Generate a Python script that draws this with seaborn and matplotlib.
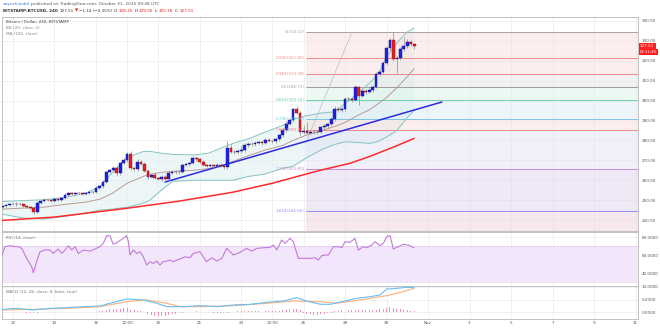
import numpy as np
import pandas as pd
import matplotlib
matplotlib.use("Agg")
import matplotlib.pyplot as plt
import seaborn as sns

sns.set_theme(style="white")
plt.rcParams['font.family'] = ['DejaVu Sans']

# ---------------- data ----------------
candle_start_day = 11.5          # Oct 11 12:00, 4h candles
candles_per_day = 6
first_open = 246.5
closes = [
    247.0, 247.6, 248.0, 248.3, 247.9, 248.2, 247.0, 246.6, 246.2, 244.2, 248.8, 249.8,
    250.3, 250.0, 249.6, 250.4, 250.2, 251.0, 252.6, 253.4, 253.1, 253.7, 253.4, 253.0,
    253.5, 254.0, 254.3, 256.2, 257.0, 259.2, 264.0, 265.0, 266.2, 263.5, 268.6, 270.2,
    273.0, 266.0, 265.6, 269.2, 268.4, 264.8, 261.6, 262.6, 261.2, 260.6, 261.8, 260.4,
    263.8, 264.2, 263.9, 264.3, 267.6, 268.1, 268.6, 271.0, 270.6, 269.2, 267.8, 267.2,
    267.6, 267.3, 267.9, 267.1, 266.6, 276.0, 274.4, 274.0, 274.6, 275.0, 277.7, 278.4,
    278.0, 278.8, 279.2, 278.6, 280.3, 279.8, 279.5, 280.5, 282.6, 285.0, 288.5, 290.2,
    295.6, 294.0, 284.0, 284.5, 283.8, 284.2, 284.0, 284.3, 286.5, 287.0, 288.0, 290.6,
    296.0, 295.2, 295.8, 300.8, 301.0, 300.5, 306.8, 302.5, 305.0, 304.5, 305.5, 307.0,
    313.5, 314.5, 318.7, 326.5, 330.5, 321.0, 321.5, 326.0, 327.5, 329.2, 328.25, 327.51,
]
upper_wick = [
    0.6, 0.5, 0.6, 0.5, 0.6, 0.5, 0.6, 0.5, 0.6, 0.8, 0.6, 0.5,
    0.6, 0.5, 0.6, 0.5, 0.6, 0.5, 0.8, 0.6, 0.5, 0.6, 0.5, 0.6,
    0.5, 0.6, 0.5, 0.8, 0.6, 0.8, 0.8, 0.6, 0.8, 1.0, 0.8, 0.8,
    1.0, 1.5, 0.8, 1.5, 0.8, 0.6, 0.8, 0.6, 0.8, 0.6, 0.8, 0.6,
    0.8, 0.6, 0.8, 0.6, 1.0, 0.6, 0.8, 1.0, 0.8, 0.6, 0.8, 0.6,
    0.8, 0.6, 0.8, 0.6, 0.8, 3.5, 2.0, 0.8, 1.0, 2.0, 1.0, 0.8,
    0.6, 0.8, 0.6, 0.8, 1.0, 0.8, 0.6, 0.8, 0.8, 1.0, 0.8, 0.8,
    0.8, 1.8, 1.0, 3.0, 5.0, 1.0, 0.8, 1.0, 0.8, 1.0, 0.8, 1.0,
    1.5, 1.0, 0.8, 1.0, 1.0, 0.8, 1.0, 0.5, 0.8, 1.0, 0.8, 1.0,
    1.0, 1.0, 1.0, 1.0, 1.0, 4.0, 1.0, 1.0, 4.5, 1.5, 1.0, 0.75,
]
lower_wick = [
    0.6, 0.5, 0.6, 0.5, 0.6, 0.5, 0.6, 0.5, 0.6, 1.0, 0.6, 0.5,
    0.6, 0.5, 0.6, 0.5, 0.6, 0.5, 0.6, 0.6, 0.5, 0.6, 0.5, 0.6,
    0.5, 0.6, 0.5, 0.6, 0.6, 0.8, 0.6, 0.6, 0.8, 1.5, 0.8, 0.6,
    0.8, 1.0, 0.8, 0.8, 0.8, 0.6, 1.0, 0.6, 0.8, 0.6, 0.8, 1.5,
    0.6, 0.6, 0.8, 0.6, 0.6, 0.6, 0.8, 0.6, 0.8, 0.6, 0.8, 0.6,
    0.8, 0.6, 0.8, 0.6, 1.0, 0.8, 0.8, 0.8, 0.6, 0.8, 0.6, 0.8,
    0.6, 0.8, 0.6, 0.8, 0.6, 0.8, 0.6, 0.8, 0.6, 0.8, 0.8, 0.8,
    0.8, 0.8, 1.5, 0.8, 0.8, 0.8, 0.8, 0.8, 0.8, 0.8, 0.8, 0.8,
    0.8, 1.0, 0.8, 0.8, 0.8, 1.0, 0.8, 4.5, 0.8, 1.0, 0.8, 1.0,
    0.8, 1.0, 0.8, 1.0, 1.0, 1.0, 7.0, 1.0, 1.0, 1.0, 1.0, 1.73,
]

bb_days = [11.47, 12.5, 13.5, 14.6, 15.5, 16.2, 16.8, 17.5, 18.3, 18.6, 19.2, 19.7, 20.7,
           21.4, 22.0, 22.6, 23.4, 24.1, 25.0, 25.5, 26.1, 26.9, 27.5, 28.0, 28.6, 29.2,
           29.6, 30.0, 30.5, 31.0, 31.33]
bb_upper = [249.3, 249.8, 250.2, 251.5, 253.5, 257.0, 264.0, 271.5, 274.5, 274.5, 273.5,
            273.0, 272.7, 273.5, 276.0, 278.5, 281.0, 284.0, 287.5, 290.7, 292.3, 293.8,
            294.4, 298.5, 303.5, 309.0, 313.5, 322.0, 329.0, 334.5, 336.5]
bb_mid = [245.5, 246.0, 246.5, 248.0, 249.0, 250.5, 253.5, 258.5, 262.0, 263.0, 264.0,
          264.5, 265.0, 265.8, 267.0, 269.5, 272.5, 275.0, 277.5, 280.0, 282.5, 285.0,
          287.0, 289.0, 292.5, 295.5, 298.5, 301.5, 306.5, 312.0, 316.0]
bb_lower = [243.0, 241.0, 240.5, 242.0, 243.5, 245.0, 245.5, 246.5, 248.5, 250.0, 255.5,
            259.5, 260.0, 260.0, 260.0, 260.0, 262.0, 263.0, 266.0, 267.0, 271.0, 275.5,
            278.0, 279.3, 279.0, 278.5, 279.5, 281.7, 285.0, 291.5, 295.0]

ma_days = [11.47, 14.0, 17.4, 20.0, 22.6, 24.5, 26.8, 28.24, 29.2, 30.3, 31.33]
ma_vals = [239.8, 241.5, 245.8, 249.5, 254.0, 258.5, 265.0, 268.5, 272.0, 276.5, 281.0]

trend_days = [19.33, 32.67]
trend_vals = [259.1, 299.3]

fib_start_day = 26.12
fib_anchor_days = [26.12, 28.34]
fib_anchor_vals = [278.92, 334.52]
fib_names = ["0", "0.236", "0.382", "0.5", "0.618", "0.786", "0.886", "1.236", "1.618"]
fib_prices = [334.52, 321.40, 313.28, 306.72, 300.16, 290.80, 285.24, 265.80, 244.56]
fib_line_colors = ["#a9a4a4", "#f08888", "#f08888", "#a09c9c", "#6fd0a6", "#7ec3e6",
                   "#f08888", "#c98ae0", "#8f8ff0"]
fib_fill_colors = ["#f9dcdc", "#f9dcdc", "#e4e4e4", "#d8f2e6", "#daecf8", "#f9dcdc",
                   "#e1e1f6", "#ded0ef", "#f0cfe0"]

rsi_days = [11.47, 11.61, 11.86, 12.10, 12.26, 12.42, 12.66, 12.90, 12.98, 13.14, 13.30, 13.54,
            13.78, 13.94, 14.18, 14.35, 14.51, 14.67, 14.83, 14.99, 15.15, 15.39, 15.71, 15.95,
            16.19, 16.35, 16.52, 16.67, 16.83, 17.07, 17.32, 17.48, 17.56, 17.64, 17.80, 17.96,
            18.12, 18.28, 18.44, 18.60, 18.76, 18.93, 19.08, 19.24, 19.41, 19.57, 19.73, 19.89,
            20.13, 20.29, 20.53, 20.69, 21.01, 21.17, 21.33, 21.58, 21.82, 22.06, 22.30, 22.62,
            22.94, 23.26, 23.50, 23.74, 24.06, 24.39, 24.55, 24.71, 24.95, 25.11, 25.35, 25.51,
            25.75, 25.99, 26.31, 26.55, 26.71, 26.88, 27.04, 27.20, 27.44, 27.68, 27.84, 28.00,
            28.24, 28.48, 28.64, 28.88, 29.05, 29.29, 29.45, 29.69, 29.85, 30.01, 30.17, 30.33,
            30.57, 30.81, 31.05, 31.21, 31.33]
rsi_vals = [60.0, 69.3, 70.4, 69.3, 69.3, 67.4, 56.3, 47.0, 40.4, 52.6, 63.7, 65.6,
            65.6, 61.8, 66.7, 61.8, 65.6, 70.4, 65.6, 69.3, 61.8, 65.6, 64.4, 66.7,
            69.3, 73.0, 81.5, 81.5, 71.9, 74.8, 78.5, 81.5, 74.8, 60.0, 65.6, 61.8,
            63.7, 58.1, 48.9, 52.6, 50.7, 53.3, 48.9, 52.6, 53.3, 54.4, 52.6, 54.4,
            56.3, 58.1, 57.0, 61.8, 63.7, 58.1, 52.6, 57.0, 53.3, 56.3, 67.4, 60.0,
            63.0, 67.4, 64.4, 67.4, 68.1, 68.5, 71.1, 65.6, 76.7, 73.0, 78.5, 74.8,
            56.3, 56.3, 56.3, 57.0, 54.4, 59.3, 60.0, 60.0, 69.3, 69.3, 68.1, 74.8,
            74.1, 78.5, 65.6, 69.3, 68.1, 71.1, 74.8, 70.4, 73.0, 80.4, 81.5, 66.7,
            69.3, 71.9, 71.1, 69.3, 68.1]

macd_days = [11.47, 12.18, 12.98, 13.78, 14.59, 15.39, 16.19, 16.67, 17.48, 18.28, 18.93,
             19.41, 20.21, 21.01, 21.82, 22.62, 23.42, 24.23, 25.03, 25.67, 26.15, 26.80,
             27.28, 28.00, 28.56, 29.20, 29.69, 30.01, 30.49, 30.97, 31.33]
macd_vals = [1.0, 1.47, 0.8, 1.47, 1.73, 2.13, 2.4, 3.47, 5.2, 4.8, 3.47, 2.13, 2.13, 2.53,
             2.13, 2.8, 3.07, 3.87, 4.4, 5.73, 4.4, 3.1, 3.07, 4.4, 5.47, 6.13, 6.8, 9.2,
             9.47, 9.87, 9.73]
signal_days = [11.47, 12.98, 14.59, 16.19, 17.48, 18.44, 19.41, 20.05, 21.01, 22.62, 24.23,
               25.51, 26.47, 26.80, 27.60, 28.40, 29.20, 30.01, 30.81, 31.33]
signal_vals = [0.8, 1.07, 1.47, 2.13, 4.13, 4.8, 3.47, 2.13, 2.13, 2.53, 3.47, 4.4, 4.13,
               4.13, 3.47, 4.4, 5.47, 6.53, 8.13, 9.47]
macd_hist = [
    0.1, 0.1, 0.0, 0.1, 0.0, -0.1, -0.1, -0.2, -0.2,
    -0.3, -0.2, -0.1, 0.0,
    0.1, 0.1, 0.0, 0.1, 0.1, 0.2, 0.2, 0.1, 0.1, 0.1, 0.0, 0.1, 0.1, 0.2, 0.2,
    0.4, 0.6, 0.9, 1.1, 1.3, 1.2, 1.4, 1.5, 1.6,
    1.0, 0.7, 0.6, 0.3, 0.0,
    -0.7, -1.1, -1.4, -1.6, -1.5, -1.4,
    -1.0, -0.8, -0.6, -0.4, -0.2, -0.1,
    0.1, 0.2, 0.3, 0.2, 0.1, 0.0, -0.1,
    -0.3, -0.4, -0.4, -0.5, -0.2, 0.1, 0.2,
    0.3, 0.3, 0.4, 0.4, 0.5, 0.4, 0.5, 0.4, 0.5, 0.5, 0.4, 0.4, 0.5, 0.7,
    0.9, 1.1, 1.4, 1.2, 0.8,
    -0.2, -0.6, -0.9, -1.0, -1.0, -0.9, -0.7, -0.5, -0.3,
    0.3, 0.5, 0.7, 0.8, 0.9, 0.9, 1.0, 0.9, 0.9, 0.8, 0.9, 0.8, 1.0, 1.1, 1.3, 1.8,
    2.2, 1.8, 1.3, 1.2, 1.0, 0.8, 0.5, 0.3,
]

x_tick_days = [12, 14, 16, 17.5, 19, 21, 23, 24.5, 26, 28, 30, 32, 34, 36, 38, 40, 42]
x_tick_labels = ["12", "14", "16", "12:00", "19", "21", "23", "12:00", "26", "28", "30",
                 "Nov", "3", "5", "7", "9", "11"]
price_ticks = [240, 250, 260, 270, 280, 290, 300, 310, 320, 330, 340]
rsi_ticks = [40, 60, 80]
macd_ticks = [0, 5, 10]
last_price = 327.51
countdown = "02:11:48"

# ---------------- layout ----------------
W, H = 660, 328
fig = plt.figure(figsize=(W / 100, H / 100), dpi=100)
fig.patch.set_facecolor("white")


def rect(x0, y0, x1, y1):
    return [x0 / W, 1 - y1 / H, (x1 - x0) / W, (y1 - y0) / H]


ax = fig.add_axes(rect(2, 17, 638, 231))
ax_rsi = fig.add_axes(rect(2, 232, 638, 286), sharex=ax)
ax_macd = fig.add_axes(rect(2, 286, 638, 319), sharex=ax)

XMIN, XMAX = 11.47, 42.12
LAB = 3.0
GRID = "#ececec"
SPINE = "#b8b8b8"

for a in (ax, ax_rsi, ax_macd):
    a.set_facecolor("white")
    a.grid(True, color=GRID, lw=0.5)
    a.set_axisbelow(True)
    for s in a.spines.values():
        s.set_color(SPINE)
        s.set_linewidth(0.6)
    a.yaxis.tick_right()
    a.tick_params(axis="y", length=0, pad=2.5, labelsize=LAB, labelcolor="#555555",
                  left=False, labelleft=False, right=False, labelright=True)
    a.tick_params(axis="x", length=0)

# ---------------- main panel ----------------
n = len(closes)
t = candle_start_day + np.arange(n) / candles_per_day
c = np.array(closes)
o = np.array([first_open] + closes[:-1])
hi = np.maximum(o, c) + np.array(upper_wick)
lo = np.minimum(o, c) - np.array(lower_wick)

ylo, yhi = 234.5, 342.0

# Bollinger band fill + lines
ax.fill_between(bb_days, bb_lower, bb_upper, color="#e2f1f1", alpha=0.6, lw=0, zorder=1)
sns.lineplot(x=bb_days, y=bb_upper, ax=ax, color="#86c2c2", lw=0.7, sort=False, zorder=2.5)
sns.lineplot(x=bb_days, y=bb_lower, ax=ax, color="#86c2c2", lw=0.7, sort=False, zorder=2.5)
sns.lineplot(x=bb_days, y=bb_mid, ax=ax, color="#b89a94", lw=0.7, sort=False, zorder=2.5)

# Fibonacci retracement
bounds = fib_prices + [ylo]
for k in range(len(fib_prices)):
    ax.fill_between([fib_start_day, XMAX], bounds[k + 1], bounds[k],
                    color=fib_fill_colors[k], alpha=0.48, lw=0, zorder=1.5)
for k, (nm, p) in enumerate(zip(fib_names, fib_prices)):
    ax.plot([fib_start_day, XMAX], [p, p], color=fib_line_colors[k], lw=0.7, zorder=2)
    ax.text(fib_start_day - 0.05, p, f"{nm}({p:.2f})", color=fib_line_colors[k],
            fontsize=LAB, ha="right", va="center", zorder=5)
sns.lineplot(x=fib_anchor_days, y=fib_anchor_vals, ax=ax, color="#bdbdbd", lw=0.5,
             sort=False, zorder=2)

# MA 100 and trend line
sns.lineplot(x=ma_days, y=ma_vals, ax=ax, color="#ff2a2a", lw=1.1, sort=False, zorder=3)
sns.lineplot(x=trend_days, y=trend_vals, ax=ax, color="#2a2ae0", lw=1.1, sort=False, zorder=3)

# candles
up = c >= o
body_lo = np.minimum(o, c)
body_h = np.maximum(np.abs(c - o), 0.25)
ax.vlines(t, lo, hi, color="#8f8f8f", lw=0.5, zorder=3.5)
ax.bar(t[up], body_h[up], bottom=body_lo[up], width=0.13, color="#1e22e8",
       edgecolor="#10127a", lw=0.3, zorder=4)
ax.bar(t[~up], body_h[~up], bottom=body_lo[~up], width=0.13, color="#ee1c1c",
       edgecolor="#8a0d0d", lw=0.3, zorder=4)

ax.set_xlim(XMIN, XMAX)
ax.set_ylim(ylo, yhi)
ax.set_yticks(price_ticks)
ax.set_yticklabels([f"{v:.2f}" for v in price_ticks])
ax.tick_params(axis="x", labelbottom=False)
ax.set_xlabel("")
ax.set_ylabel("")

ax.annotate(f"{last_price:.2f}", xy=(1, last_price), xycoords=("axes fraction", "data"),
            xytext=(1.6, 0), textcoords="offset points", fontsize=LAB, color="white",
            va="center", ha="left", annotation_clip=False,
            bbox=dict(boxstyle="square,pad=0.3", fc="#ff1f1f", ec="none"))
ax.annotate(countdown, xy=(1, last_price), xycoords=("axes fraction", "data"),
            xytext=(1.6, -4.6), textcoords="offset points", fontsize=LAB * 0.9, color="white",
            va="center", ha="left", annotation_clip=False,
            bbox=dict(boxstyle="square,pad=0.3", fc="#ff1f1f", ec="none"))

# ---------------- RSI panel ----------------
ax_rsi.axhspan(30, 70, color="#f3e5fc", lw=0, zorder=0.5)
for lvl in (70, 30):
    ax_rsi.axhline(lvl, color="#c6b2d2", lw=0.5, ls=(0, (1, 1.2)), zorder=1)
sns.lineplot(x=rsi_days, y=rsi_vals, ax=ax_rsi, color="#c27ad8", lw=0.8, sort=False, zorder=3)
ax_rsi.set_ylim(25.6, 85.6)
ax_rsi.set_yticks(rsi_ticks)
ax_rsi.set_yticklabels([f"{v:.4f}" for v in rsi_ticks])
ax_rsi.tick_params(axis="x", labelbottom=False)
ax_rsi.set_xlabel("")
ax_rsi.set_ylabel("")

# ---------------- MACD panel ----------------
ax_macd.bar(t, macd_hist, width=0.045, color="#f58fb8", lw=0, zorder=2)
sns.lineplot(x=signal_days, y=signal_vals, ax=ax_macd, color="#ffae78", lw=0.8, sort=False, zorder=3)
sns.lineplot(x=macd_days, y=macd_vals, ax=ax_macd, color="#66bff2", lw=0.8, sort=False, zorder=3.5)
ax_macd.set_ylim(-2.8, 10.4)
ax_macd.set_yticks(macd_ticks)
ax_macd.set_yticklabels([f"{v:.4f}" for v in macd_ticks])
ax_macd.set_xticks(x_tick_days)
ax_macd.set_xticklabels(x_tick_labels)
ax_macd.tick_params(axis="x", labelsize=LAB, labelcolor="#555555", pad=1.5)
ax_macd.set_xlabel("")
ax_macd.set_ylabel("")
ax_macd.set_xlim(XMIN, XMAX)

# ---------------- texts ----------------
renderer = fig.canvas.get_renderer()


def text_run(x_px, y_px, pieces, size):
    x = x_px
    for s, color, weight, gap in pieces:
        tt = fig.text(x / W, 1 - y_px / H, s, fontsize=size, color=color,
                      fontweight=weight, va="center", ha="left")
        x += tt.get_window_extent(renderer=renderer).width + gap


text_run(3, 4.5, [("aayushjindal", "#3b7dd8", "normal", 1.0),
                  ("published on TradingView.com, October 31, 2015 09:48 UTC", "#555555", "normal", 0)],
         3.1)
text_run(3, 11, [("BITSTAMP:BTCUSD, 240", "#333333", "bold", 2.0),
                 ("327.51", "#333333", "normal", 0.8),
                 ("\u25bc", "#e81c1c", "normal", 0.5),
                 ("\u22121.14 (\u22120.35%)", "#333333", "normal", 2.0),
                 ("O:", "#333333", "normal", 0.3), ("328.25", "#e81c1c", "normal", 1.5),
                 ("H:", "#333333", "normal", 0.3), ("329.00", "#e81c1c", "normal", 1.5),
                 ("L:", "#333333", "normal", 0.3), ("325.78", "#e81c1c", "normal", 1.5),
                 ("C:", "#333333", "normal", 0.3), ("327.51", "#e81c1c", "normal", 0)],
         3.0)

fig.text(6 / W, 1 - 22 / H, "Bitcoin / Dollar, 240, BITSTAMP", fontsize=LAB, color="#444444", va="center")
fig.text(6 / W, 1 - 28 / H, "BB (20, close, 2)", fontsize=LAB, color="#888888", va="center")
fig.text(6 / W, 1 - 34 / H, "MA (100, close)", fontsize=LAB, color="#888888", va="center")
fig.text(6 / W, 1 - 238 / H, "RSI (14, close)", fontsize=LAB, color="#777777", va="center")
fig.text(6 / W, 1 - 292 / H, "MACD (12, 26, close, 9, false, true)", fontsize=LAB, color="#777777", va="center")

fig.savefig("out.png", dpi=100, facecolor="white")
